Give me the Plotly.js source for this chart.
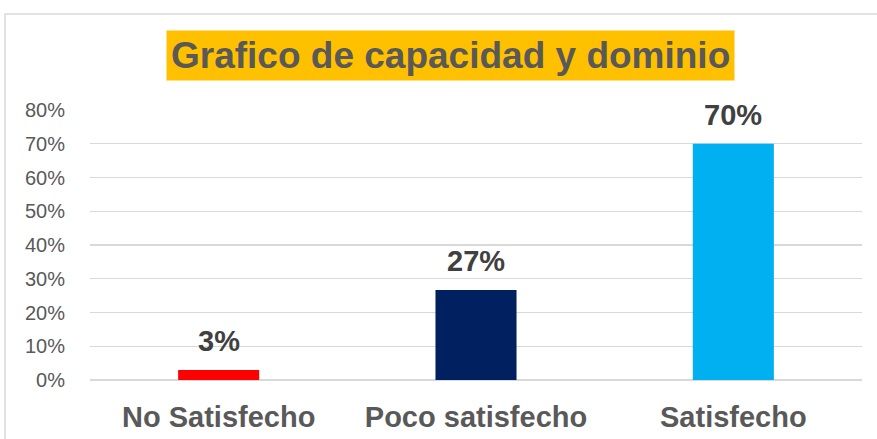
<!DOCTYPE html>
<html>
<head>
<meta charset="utf-8">
<script src="https://cdn.plot.ly/plotly-3.0.1.min.js"></script>
<style>
html,body{margin:0;padding:0;background:#fff;}
#chart{width:877px;height:439px;}
</style>
</head>
<body>
<div id="chart"></div>
<script>
var categories = ["No Satisfecho", "Poco satisfecho", "Satisfecho"];
var values = [0.03, 0.267, 0.70];
var labels = ["3%", "27%", "70%"];
var barColors = ["#FF0000", "#002060", "#00B0F0"];
var yTickVals = [0, 0.1, 0.2, 0.3, 0.4, 0.5, 0.6, 0.7, 0.8];
var yTickText = ["0%", "10%", "20%", "30%", "40%", "50%", "60%", "70%", "80%"];
var titleText = "Grafico de capacidad y dominio";

var FONT = "Arial, 'Liberation Sans', sans-serif";

var trace = {
  type: "bar",
  x: categories,
  y: values,
  marker: {color: barColors},
  hoverinfo: "none"
};

var annotations = categories.map(function(c, i){
  return {
    x: c, y: values[i], xref: "x", yref: "y",
    text: "<b>" + labels[i] + "</b>",
    showarrow: false, yanchor: "bottom", yshift: 11,
    font: {family: FONT, size: 29, color: "#404040"}
  };
});
annotations.push({
  xref: "paper", yref: "paper",
  x: (450.5 - 90) / 772, y: (380 - 55.5) / 270,
  xanchor: "center", yanchor: "middle",
  text: "<b>" + titleText + "</b>",
  showarrow: false,
  bgcolor: "#FFC000",
  borderpad: 4,
  font: {family: FONT, size: 37, color: "#595959"}
});

var layout = {
  width: 877, height: 439,
  margin: {l: 90, r: 15, t: 110, b: 59, pad: 0},
  paper_bgcolor: "#fff",
  plot_bgcolor: "#fff",
  showlegend: false,
  bargap: 0.685,
  xaxis: {
    type: "category",
    showgrid: false, zeroline: false, showline: false,
    ticks: "outside", ticklen: 11, tickcolor: "rgba(0,0,0,0)",
    tickfont: {family: FONT, size: 29, color: "#595959", weight: "bold"}
  },
  yaxis: {
    range: [0, 0.8],
    tickvals: yTickVals, ticktext: yTickText,
    showgrid: true, gridcolor: "#D9D9D9", gridwidth: 1.3,
    zeroline: true, zerolinecolor: "#D9D9D9", zerolinewidth: 1.3,
    showline: false,
    ticks: "outside", ticklen: 20, tickcolor: "rgba(0,0,0,0)",
    tickfont: {family: FONT, size: 20, color: "#595959"}
  },
  annotations: annotations,
  shapes: [{
    type: "rect", xref: "paper", yref: "paper",
    x0: (5 - 90) / 772, x1: (900 - 90) / 772,
    y0: (380 - 460) / 270, y1: (380 - 14) / 270,
    line: {color: "#D9D9D9", width: 1.5},
    fillcolor: "rgba(0,0,0,0)",
    layer: "below"
  }]
};

Plotly.newPlot("chart", [trace], layout, {displayModeBar: false, staticPlot: true});
</script>
</body>
</html>
